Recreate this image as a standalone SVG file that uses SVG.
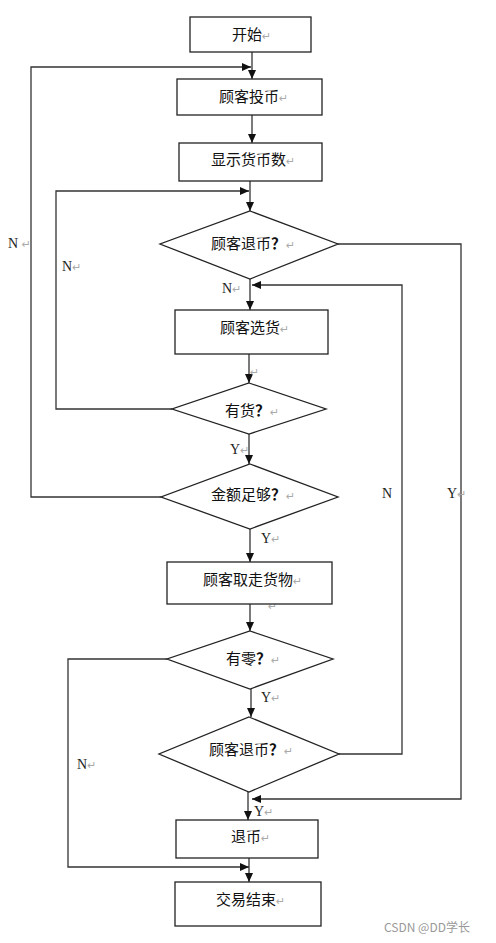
<svg xmlns="http://www.w3.org/2000/svg" width="496" height="943" viewBox="0 0 496 943">
<style>
.box{fill:#fff;stroke:#222;stroke-width:1.3}
.c{fill:none;stroke:#333;stroke-width:1.3}
.t{font-family:"Noto Sans CJK SC","Noto Sans",sans-serif;font-size:15px;fill:#111}
.q{font-weight:bold}
.l{font-family:"Liberation Serif",serif;font-size:14px;fill:#222}
.m{fill:#aaa;font-family:"DejaVu Sans",sans-serif;font-size:11px;font-weight:normal}
</style>
<defs>
<marker id="a" markerUnits="userSpaceOnUse" markerWidth="10" markerHeight="10" refX="9" refY="4" orient="auto"><path d="M0,0 L9,4 L0,8 Z" fill="#111"/></marker>
</defs>
<rect width="496" height="943" fill="#fff"/>
<g id="connectors">
<path class="c" d="M252 52 V79" marker-end="url(#a)"/>
<path class="c" d="M161 497 H31 V67 H251" marker-end="url(#a)"/>
<path class="c" d="M252 115 V143" marker-end="url(#a)"/>
<path class="c" d="M250 181 V211" marker-end="url(#a)"/>
<path class="c" d="M172 409 H56 V191 H249" marker-end="url(#a)"/>
<path class="c" d="M338 244 H461 V799 H252" marker-end="url(#a)"/>
<path class="c" d="M250 279 V310" marker-end="url(#a)"/>
<path class="c" d="M339 754 H402 V285 H252" marker-end="url(#a)"/>
<path class="c" d="M249 354 V383" marker-end="url(#a)"/>
<path class="c" d="M249 434 V464" marker-end="url(#a)"/>
<path class="c" d="M250 529 V562" marker-end="url(#a)"/>
<path class="c" d="M250 604 V631" marker-end="url(#a)"/>
<path class="c" d="M167 659 H68 V867 H249" marker-end="url(#a)"/>
<path class="c" d="M251 689 V717" marker-end="url(#a)"/>
<path class="c" d="M248 792 V820" marker-end="url(#a)"/>
<path class="c" d="M249 858 V882" marker-end="url(#a)"/>
</g>
<g id="labels">
<text class="l" x="8" y="248">N <tspan class="m">↵</tspan></text>
<text class="l" x="62" y="271">N<tspan class="m">↵</tspan></text>
<text class="l" x="222" y="293">N<tspan class="m">↵</tspan></text>
<text class="m" x="250" y="376">↵</text>
<text class="l" x="230" y="454">Y<tspan class="m">↵</tspan></text>
<text class="l" x="382" y="498">N</text>
<text class="l" x="447" y="498">Y<tspan class="m">↵</tspan></text>
<text class="l" x="261" y="543">Y<tspan class="m">↵</tspan></text>
<text class="m" x="268" y="610">↵</text>
<text class="l" x="261" y="702">Y<tspan class="m">↵</tspan></text>
<text class="l" x="77" y="769">N<tspan class="m">↵</tspan></text>
<text class="l" x="254" y="816">Y<tspan class="m">↵</tspan></text>
</g>
<g id="start"><rect class="box" x="190" y="17" width="121" height="35"/><text class="t" x="232" y="40">开始<tspan class="m">↵</tspan></text></g>
<g id="insert"><rect class="box" x="177" y="79" width="145" height="36"/><text class="t" x="219" y="102">顾客投币<tspan class="m">↵</tspan></text></g>
<g id="display"><rect class="box" x="179" y="143" width="143" height="38"/><text class="t" x="211" y="165">显示货币数<tspan class="m">↵</tspan></text></g>
<g id="refund1"><polygon class="box" points="250,211 338,244 250,279 160,244"/><text class="t" x="211" y="249">顾客退币<tspan class="q">？</tspan><tspan class="m">↵</tspan></text></g>
<g id="select"><rect class="box" x="175" y="310" width="153" height="44"/><text class="t" x="220" y="333">顾客选货<tspan class="m">↵</tspan></text></g>
<g id="stock"><polygon class="box" points="249,383 326,409 249,434 172,409"/><text class="t" x="225" y="416">有货<tspan class="q">？</tspan><tspan class="m">↵</tspan></text></g>
<g id="enough"><polygon class="box" points="250,464 338,497 250,529 161,497"/><text class="t" x="211" y="500">金额足够<tspan class="q">？</tspan><tspan class="m">↵</tspan></text></g>
<g id="take"><rect class="box" x="167" y="562" width="165" height="42"/><text class="t" x="203" y="585">顾客取走货物<tspan class="m">↵</tspan></text></g>
<g id="change"><polygon class="box" points="250,631 333,659 250,689 167,659"/><text class="t" x="226" y="664">有零<tspan class="q">？</tspan><tspan class="m">↵</tspan></text></g>
<g id="refund2"><polygon class="box" points="249,717 339,754 249,792 159,754"/><text class="t" x="209" y="755">顾客退币<tspan class="q">？</tspan><tspan class="m">↵</tspan></text></g>
<g id="return"><rect class="box" x="176" y="820" width="142" height="38"/><text class="t" x="231" y="842">退币<tspan class="m">↵</tspan></text></g>
<g id="end"><rect class="box" x="175" y="882" width="146" height="44"/><text class="t" x="216" y="905">交易结束<tspan class="m">↵</tspan></text></g>
<text x="384" y="932" style="font-family:'Noto Sans CJK SC',sans-serif;font-size:12px;fill:#999">CSDN @DD学长</text>
</svg>
